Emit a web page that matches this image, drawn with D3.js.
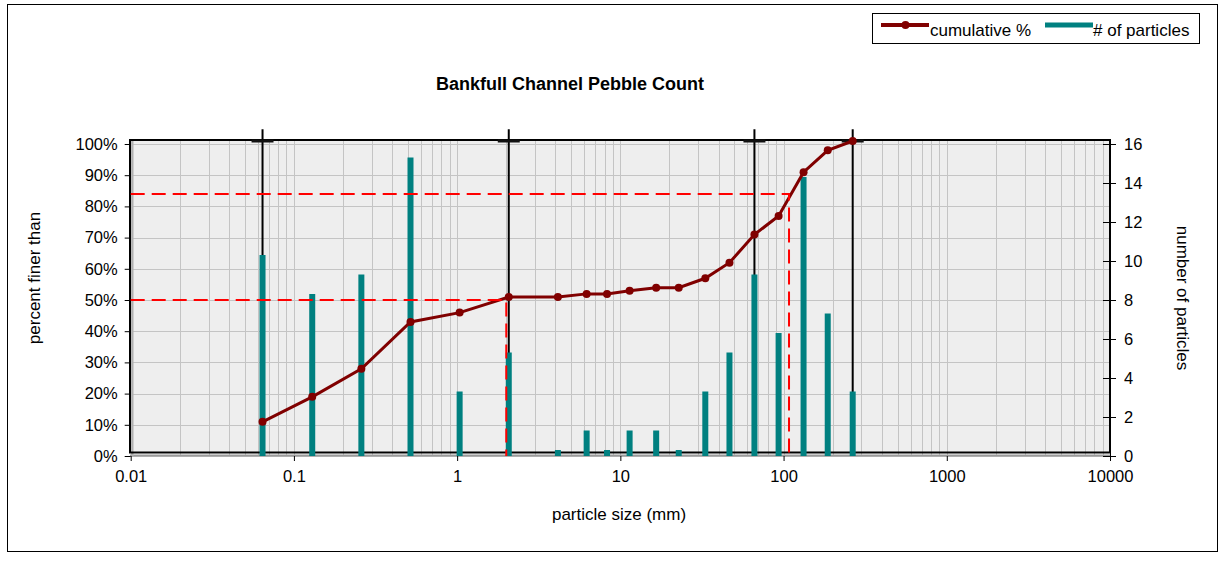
<!DOCTYPE html>
<html>
<head>
<meta charset="utf-8">
<script src="https://cdn.jsdelivr.net/npm/d3@7"></script>
<style>
  html, body { margin: 0; padding: 0; background: #fff; }
  svg { display: block; font-family: "Liberation Sans", Arial, sans-serif; }
</style>
</head>
<body>
<svg id="chart" width="1225" height="565"></svg>
<script>
// ---- data ----
const sizes = [0.062, 0.125, 0.25, 0.5, 1, 2, 4, 6, 8, 11, 16, 22, 32, 45, 64, 90, 128, 180, 256];
const counts = [10, 8, 9, 15, 3, 5, 0, 1, 0, 1, 1, 0, 3, 5, 9, 6, 14, 7, 3];
const cumulative = [0.10, 0.18, 0.27, 0.42, 0.45, 0.50, 0.50, 0.51, 0.51, 0.52, 0.53, 0.53, 0.56, 0.61, 0.70, 0.76, 0.90, 0.97, 1.00];
const classBounds = [0.062, 2, 64, 256];
const dPoints = [{p: 0.50, d: 2}, {p: 0.84, d: 108}];
const xTicks = [0.01, 0.1, 1, 10, 100, 1000, 10000];
const yTicks = [0, 0.1, 0.2, 0.3, 0.4, 0.5, 0.6, 0.7, 0.8, 0.9, 1.0];
const y2Ticks = [0, 2, 4, 6, 8, 10, 12, 14, 16];

// ---- layout ----
const svg = d3.select("#chart");
const L = 130.7, R = 1110, T = 144, B = 456;
const x = d3.scaleLog().domain([0.01, 10000]).range([L, R]);
const y = d3.scaleLinear().domain([0, 1]).range([B, T]);
const y2 = d3.scaleLinear().domain([0, 16]).range([B, T]);
const sdx = 2.5, sdy = -3; // series rendering offset seen in the picture

// outer border
svg.append("rect").attr("x", 7.5).attr("y", 4.5).attr("width", 1210).attr("height", 547)
  .attr("fill", "#fff").attr("stroke", "#000").attr("stroke-width", 1);

// plot background
svg.append("rect").attr("x", 130).attr("y", 140).attr("width", R - 130).attr("height", 313)
  .attr("fill", "#eeeeee");

// gridlines
const grid = svg.append("g").attr("stroke", "#c4c4c4").attr("stroke-width", 1);
const minor = [];
for (let e = -2; e < 4; e++) for (let m = 1; m < 10; m++) minor.push(m * Math.pow(10, e));
minor.push(10000);
grid.selectAll("line.v").data(minor).join("line")
  .attr("x1", d => Math.round(x(d)) + 0.5).attr("x2", d => Math.round(x(d)) + 0.5)
  .attr("y1", 141).attr("y2", B);
grid.selectAll("line.h").data(yTicks).join("line")
  .attr("x1", 131).attr("x2", R)
  .attr("y1", d => Math.round(y(d)) + 0.5).attr("y2", d => Math.round(y(d)) + 0.5);

// axes lines (gray)
svg.append("line").attr("x1", 130).attr("x2", R).attr("y1", 455.5).attr("y2", 455.5)
  .attr("stroke", "#9a9a9a").attr("stroke-width", 2);
svg.append("line").attr("x1", 132.5).attr("x2", 132.5).attr("y1", 141).attr("y2", 456)
  .attr("stroke", "#b0b0b0").attr("stroke-width", 2);

// plot frame
svg.append("rect").attr("x", 130).attr("y", 140).attr("width", R - 130).attr("height", 312.5)
  .attr("fill", "none").attr("stroke", "#000").attr("stroke-width", 2);

// left axis
const yAxis = d3.axisLeft(y).tickValues(yTicks).tickSize(6).tickPadding(7)
  .tickFormat(d3.format(".0%"));
const gy = svg.append("g").attr("transform", `translate(${L},0)`).call(yAxis);
gy.select(".domain").remove();

// right axis
const y2Axis = d3.axisRight(y2).tickValues(y2Ticks).tickSize(6).tickPadding(8);
const gy2 = svg.append("g").attr("transform", `translate(${R},0)`).call(y2Axis);
gy2.select(".domain").attr("stroke", "#000").attr("d", `M0.5,${T}V${B}`);
gy2.selectAll(".tick line").attr("x1", -7);

// bottom axis
const xAxis = d3.axisBottom(x).tickValues(xTicks).tickSize(5).tickPadding(9)
  .tickFormat(d => String(d));
const gx = svg.append("g").attr("transform", `translate(0,${B})`).call(xAxis);
gx.select(".domain").remove();

[gy, gy2, gx].forEach(g => {
  g.selectAll("text").attr("font-size", 16.5).attr("fill", "#000")
    .attr("font-family", '"Liberation Sans", Arial, sans-serif');
  g.selectAll(".tick line").attr("stroke", "#000");
});

// series group (with picture's offset)
const sg = svg.append("g").attr("transform", `translate(${sdx},${sdy})`);

// class boundary lines (error-bar style)
sg.selectAll("line.cb").data(classBounds).join("line")
  .attr("x1", d => x(d)).attr("x2", d => x(d))
  .attr("y1", y(1.038)).attr("y2", y(0))
  .attr("stroke", "#000").attr("stroke-width", 2);
sg.selectAll("line.cbm").data(classBounds).join("line")
  .attr("x1", d => x(d) - 11).attr("x2", d => x(d) + 11)
  .attr("y1", y(1)).attr("y2", y(1))
  .attr("stroke", "#111").attr("stroke-width", 3);

// particle counts
sg.selectAll("line.bar").data(sizes).join("line")
  .attr("x1", d => x(d)).attr("x2", d => x(d))
  .attr("y1", y2(0)).attr("y2", (d, i) => y2(counts[i]))
  .attr("stroke", "#008080").attr("stroke-width", 6).attr("stroke-linecap", "square");

// D50 / D84 guides (axis coordinates)
const guides = svg.append("g").attr("stroke", "#ff0000").attr("stroke-width", 2)
  .attr("fill", "none").attr("stroke-dasharray", "14,7");
guides.selectAll("path").data(dPoints).join("path")
  .attr("d", d => `M${L},${y(d.p)}H${x(d.d)}V${B}`);

// cumulative line
const line = d3.line().x(d => x(d[0])).y(d => y(d[1]));
sg.append("path").datum(sizes.map((s, i) => [s, cumulative[i]]))
  .attr("d", line).attr("fill", "none").attr("stroke", "#800000").attr("stroke-width", 3);
sg.selectAll("circle").data(sizes).join("circle")
  .attr("cx", d => x(d)).attr("cy", (d, i) => y(cumulative[i])).attr("r", 4)
  .attr("fill", "#800000");

// title
svg.append("text").attr("x", 570).attr("y", 90).attr("text-anchor", "middle")
  .attr("font-size", 18).attr("font-weight", "bold").text("Bankfull Channel Pebble Count");

// axis titles
svg.append("text").attr("x", 619).attr("y", 520).attr("text-anchor", "middle")
  .attr("font-size", 17).text("particle size (mm)");
svg.append("text").attr("transform", "translate(40,278) rotate(-90)").attr("text-anchor", "middle")
  .attr("font-size", 17).text("percent finer than");
svg.append("text").attr("transform", "translate(1177,298) rotate(90)").attr("text-anchor", "middle")
  .attr("font-size", 17).text("number of particles");

// legend
const lg = svg.append("g");
lg.append("rect").attr("x", 872.5).attr("y", 13.5).attr("width", 327).attr("height", 30)
  .attr("fill", "#fff").attr("stroke", "#000").attr("stroke-width", 1);
lg.append("line").attr("x1", 881).attr("x2", 929).attr("y1", 25).attr("y2", 25)
  .attr("stroke", "#800000").attr("stroke-width", 4);
lg.append("circle").attr("cx", 905.5).attr("cy", 25).attr("r", 4).attr("fill", "#800000");
lg.append("text").attr("x", 930).attr("y", 36).attr("font-size", 17).text("cumulative %");
lg.append("line").attr("x1", 1045).attr("x2", 1093).attr("y1", 25).attr("y2", 25)
  .attr("stroke", "#008080").attr("stroke-width", 5);
lg.append("text").attr("x", 1093).attr("y", 36).attr("font-size", 17).text("# of particles");
</script>
</body>
</html>
